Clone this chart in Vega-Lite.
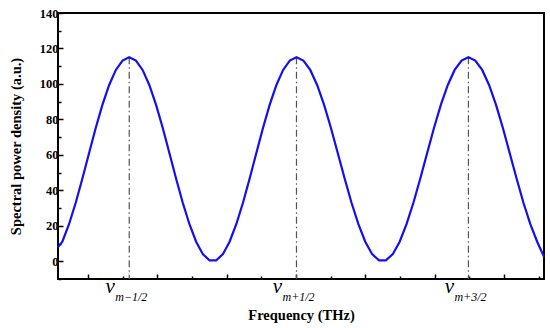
{
  "$schema": "https://vega.github.io/schema/vega-lite/v6.json",
  "width": 486,
  "height": 266,
  "autosize": {"type": "none"},
  "padding": {"left": 58, "top": 13, "right": 6, "bottom": 49},
  "background": "white",
  "config": {
    "view": {"stroke": "black", "strokeWidth": 2},
    "font": "Liberation Serif"
  },
  "datasets": {
    "curve": [
      {"f": -0.87, "p": 8.0}, {"f": -0.745, "p": 11.0}, {"f": -0.552, "p": 20.9}, {"f": -0.359, "p": 33.0},
      {"f": -0.166, "p": 46.7}, {"f": 0.027, "p": 61.1}, {"f": 0.22, "p": 75.3}, {"f": 0.413, "p": 88.3},
      {"f": 0.606, "p": 99.4}, {"f": 0.799, "p": 107.9}, {"f": 0.992, "p": 113.2}, {"f": 1.185, "p": 115.0},
      {"f": 1.378, "p": 113.2}, {"f": 1.571, "p": 107.9}, {"f": 1.764, "p": 99.4}, {"f": 1.957, "p": 88.3},
      {"f": 2.15, "p": 75.3}, {"f": 2.343, "p": 61.1}, {"f": 2.536, "p": 46.7}, {"f": 2.729, "p": 33.0},
      {"f": 2.922, "p": 20.9}, {"f": 3.115, "p": 11.0}, {"f": 3.308, "p": 4.0}, {"f": 3.501, "p": 0.5},
      {"f": 3.694, "p": 0.5}, {"f": 3.887, "p": 4.0}, {"f": 4.08, "p": 11.0}, {"f": 4.273, "p": 20.9},
      {"f": 4.466, "p": 33.0}, {"f": 4.659, "p": 46.7}, {"f": 4.852, "p": 61.1}, {"f": 5.045, "p": 75.3},
      {"f": 5.238, "p": 88.3}, {"f": 5.431, "p": 99.4}, {"f": 5.624, "p": 107.9}, {"f": 5.817, "p": 113.2},
      {"f": 6.01, "p": 115.0}, {"f": 6.208, "p": 113.2}, {"f": 6.407, "p": 107.9}, {"f": 6.605, "p": 99.4},
      {"f": 6.804, "p": 88.3}, {"f": 7.002, "p": 75.3}, {"f": 7.2, "p": 61.1}, {"f": 7.399, "p": 46.7},
      {"f": 7.597, "p": 33.0}, {"f": 7.796, "p": 20.9}, {"f": 7.994, "p": 11.0}, {"f": 8.192, "p": 4.0},
      {"f": 8.391, "p": 0.5}, {"f": 8.589, "p": 0.5}, {"f": 8.788, "p": 4.0}, {"f": 8.986, "p": 11.0},
      {"f": 9.184, "p": 20.9}, {"f": 9.383, "p": 33.0}, {"f": 9.581, "p": 46.7}, {"f": 9.78, "p": 61.1},
      {"f": 9.978, "p": 75.3}, {"f": 10.176, "p": 88.3}, {"f": 10.375, "p": 99.4}, {"f": 10.573, "p": 107.9},
      {"f": 10.772, "p": 113.2}, {"f": 10.97, "p": 115.0}, {"f": 11.168, "p": 113.2}, {"f": 11.367, "p": 107.9},
      {"f": 11.565, "p": 99.4}, {"f": 11.764, "p": 88.3}, {"f": 11.962, "p": 75.3}, {"f": 12.16, "p": 61.1},
      {"f": 12.359, "p": 46.7}, {"f": 12.557, "p": 33.0}, {"f": 12.756, "p": 20.9}, {"f": 12.954, "p": 11.0},
      {"f": 13.15, "p": 2.5}
    ],
    "peaks": [
      {"f": 1.185, "p": 115, "sub": "m−1/2"},
      {"f": 6.01, "p": 115, "sub": "m+1/2"},
      {"f": 10.97, "p": 115, "sub": "m+3/2"}
    ]
  },
  "encoding": {
    "x": {
      "field": "f", "type": "quantitative",
      "scale": {"domain": [-0.87, 13.15], "nice": false, "zero": false},
      "axis": {
        "title": "Frequency (THz)",
        "titleFont": "Liberation Serif", "titleFontSize": 14.5, "titleFontWeight": "bold", "titleColor": "black",
        "titlePadding": 29,
        "values": [0,1,2,3,4,5,6,7,8,9,10,11,12,13],
        "labels": false,
        "domain": false, "grid": false,
        "tickColor": "black", "tickWidth": 1.5,
        "tickSize": {"expr": "datum.value % 2 === 0 ? -5 : -3"}
      }
    },
    "y": {
      "field": "p", "type": "quantitative",
      "scale": {"domain": [-10, 140], "nice": false, "zero": false},
      "axis": {
        "title": "Spectral power density (a.u.)",
        "titleFont": "Liberation Serif", "titleFontSize": 14.5, "titleFontWeight": "bold", "titleColor": "black",
        "titlePadding": 16,
        "values": [-10,0,10,20,30,40,50,60,70,80,90,100,110,120,130,140],
        "labelExpr": "datum.value % 20 === 0 ? datum.label : ''",
        "labelFont": "Liberation Serif", "labelFontSize": 12.5, "labelFontWeight": "bold", "labelColor": "black",
        "labelPadding": 5,
        "domain": false, "grid": false,
        "tickColor": "black", "tickWidth": 1.5,
        "tickSize": {"expr": "datum.value % 20 === 0 ? -5 : -3"}
      }
    }
  },
  "layer": [
    {
      "data": {"name": "peaks"},
      "mark": {"type": "rule", "color": "#555555", "strokeWidth": 1.2, "strokeDash": [7, 3, 1.5, 3]},
      "encoding": {"y2": {"datum": -10}}
    },
    {
      "data": {"name": "curve"},
      "mark": {"type": "line", "color": "#1010f0", "strokeWidth": 2.2}
    },
    {
      "data": {"name": "peaks"},
      "mark": {"type": "text", "text": "ν", "font": "Liberation Serif", "fontStyle": "italic", "fontSize": 21, "align": "center", "baseline": "alphabetic", "dx": -19, "color": "black"},
      "encoding": {"y": {"datum": -18}}
    },
    {
      "data": {"name": "peaks"},
      "mark": {"type": "text", "font": "Liberation Serif", "fontStyle": "italic", "fontSize": 12, "align": "left", "baseline": "alphabetic", "dx": -14, "dy": 8, "color": "black"},
      "encoding": {"y": {"datum": -18}, "text": {"field": "sub"}}
    }
  ]
}
